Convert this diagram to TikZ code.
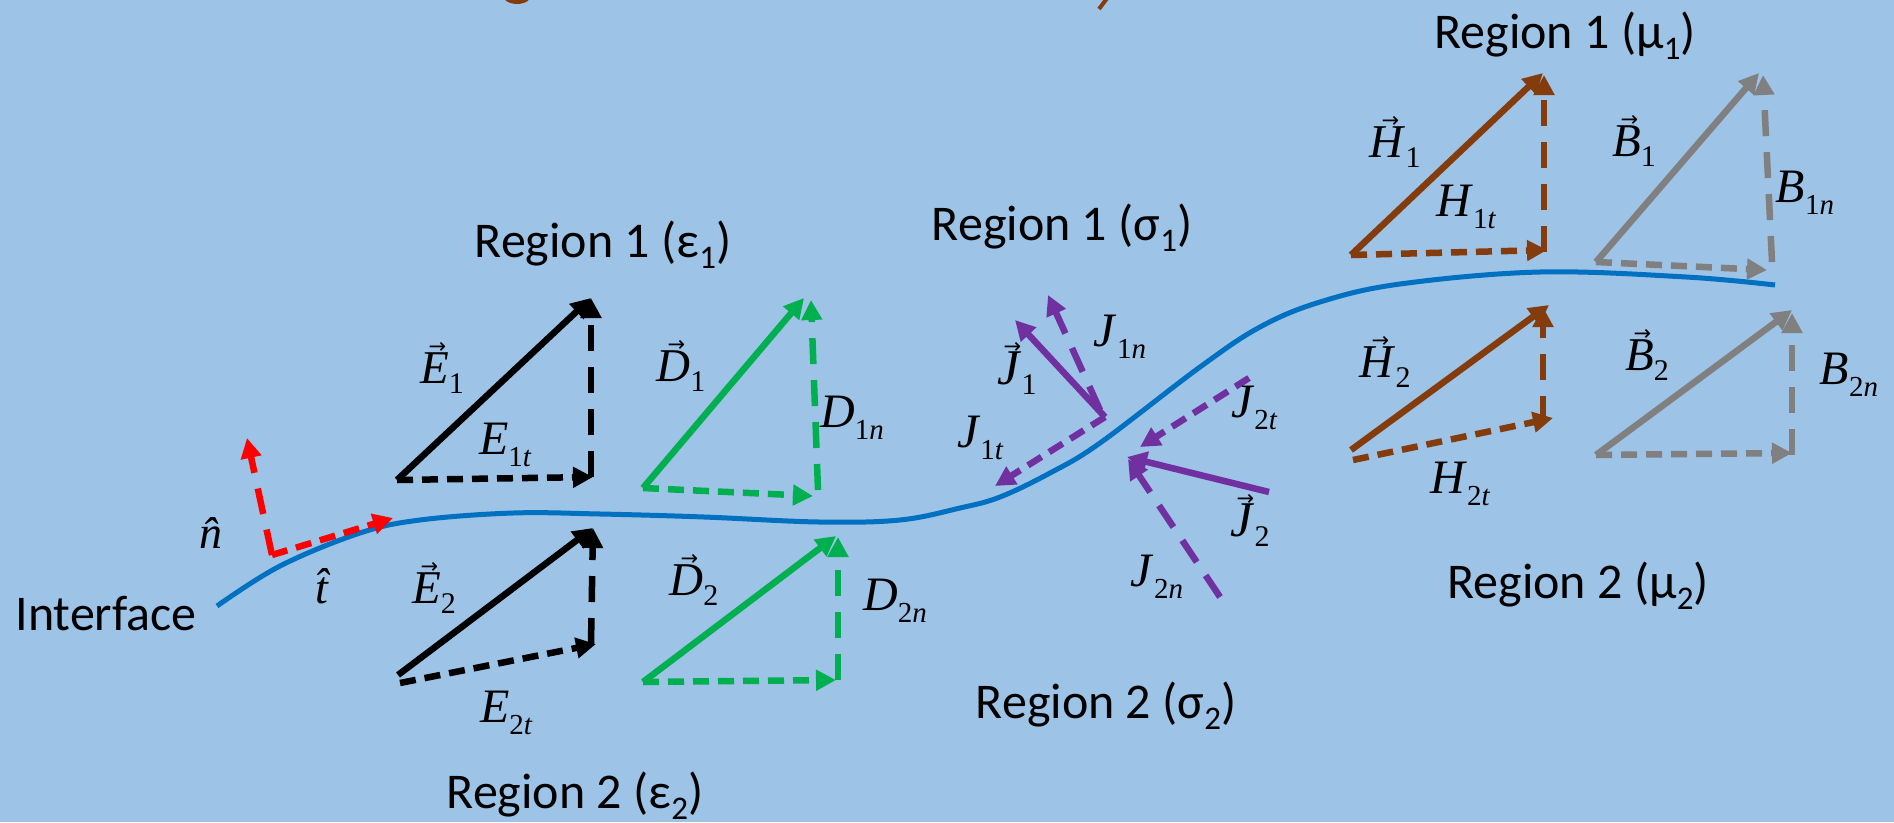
\documentclass[tikz,border=0pt]{standalone}
\usepackage{fontspec}
\setmainfont{Carlito}
\newfontfamily\tnr{Liberation Serif}
\newfontfamily\dvs{DejaVu Sans}
\usetikzlibrary{arrows.meta}
\definecolor{bg}{HTML}{9DC3E6}
\definecolor{ifc}{HTML}{0070C0}
\definecolor{vred}{HTML}{FF0000}
\definecolor{vgreen}{HTML}{00B050}
\definecolor{vpurple}{HTML}{7030A0}
\definecolor{vbrown}{HTML}{843C0C}
\definecolor{vgrey}{HTML}{808080}
% vector label: letter with small arrow above, subscript
\newcommand{\VL}[3][47]{{\fontsize{#1}{#1}\selectfont\tnr\itshape
  \setbox0\hbox{#2\/}%
  \rlap{\hbox to \wd0{\hfil\kern0.12em\raisebox{0.62em}{\fontsize{21}{21}\selectfont\upshape\dvs →}\hfil}}\box0
  \raisebox{-10pt}{\fontsize{30}{30}\selectfont\upshape #3}}}
% component label: letter, upright digit, italic letter
\newcommand{\CL}[3]{{\fontsize{48}{48}\selectfont\tnr\itshape #1\/\raisebox{-12pt}{\fontsize{29}{29}\selectfont\upshape #2\itshape #3}}}
% unit vector label
\newcommand{\HL}[1]{{\fontsize{46}{46}\selectfont\tnr\itshape\^{#1}}}
% region label
\newcommand{\RL}[3]{{\fontsize{50}{50}\selectfont Region #1 (#2\raisebox{-11pt}{\fontsize{33}{33}\selectfont #3})}}
\begin{document}
\begin{tikzpicture}[x=1pt,y=-1pt,
  vec/.style={line width=6.5pt,-{Triangle[length=20pt,width=20pt]}},
  tcomp/.style={vec,dash pattern=on 16pt off 9pt},
  ncomp/.style={vec,dash pattern=on 26pt off 16pt},
  lab/.style={inner sep=0pt,text=black},
  reg/.style={inner sep=0pt,anchor=base,text=black}]
\useasboundingbox (0,0) rectangle (1894,822);
\fill[bg] (0,0) rectangle (1894,822);
% cut-off title fragments
\begin{scope}
\clip (0,0) rectangle (1894,822);
\fill[vbrown] (517,-6) ellipse (15pt and 10pt);
\draw[vbrown,line width=4pt] (1108,-3) -- (1099,9);
\end{scope}
% interface
\draw[ifc,line width=5pt] plot[smooth,tension=0.6] coordinates {(217,606) (280,566) (360,533) (420,520) (513,513) (600,514) (704,517) (819,522) (900,520) (960,508) (1000,497) (1050,473) (1100,443) (1200,367) (1260,327) (1320,302) (1400,284) (1540,272) (1686,277) (1775,285)};
\node[inner sep=0pt,anchor=base,text=black] (ifl) at (106,630) {\fontsize{50}{50}\selectfont Interface};
% unit vectors
\coordinate (rc) at (272,555);
\coordinate (rn) at (247,438);
\coordinate (rt) at (393,518);
\draw[ncomp,vred] (rc) -- (rn);
\draw[tcomp,vred] (rc) -- (rt);
\node[lab] (nh) at (211,533) {\HL{n}};
\node[lab] (th) at (322,586) {\HL{t}};
% E1
\coordinate (e1b) at (397,480); \coordinate (e1t) at (591,298);
\coordinate (e1h) at (593,477); \coordinate (e1n) at (591,477);
\draw[vec,black] (e1b) -- (e1t);
\draw[tcomp,black] (e1b) -- (e1h);
\draw[ncomp,black] (e1n) -- (e1t);
\node[lab] (lE1) at (442,368) {\VL{E}{1}};
\node[lab] (lE1t) at (505,445) {\CL{E}{1}{t}};
% E2
\coordinate (e2b) at (398,675); \coordinate (e2s) at (400,683); \coordinate (e2t) at (593,528);
\coordinate (e2h) at (596,644); \coordinate (e2n) at (591,644);
\draw[vec,black] (e2b) -- (e2t);
\draw[tcomp,black] (e2s) -- (e2h);
\draw[ncomp,black] (e2n) -- (e2t);
\node[lab] (lE2) at (434,588) {\VL{E}{2}};
\node[lab] (lE2t) at (506,713) {\CL{E}{2}{t}};
% D1
\coordinate (d1b) at (643,488); \coordinate (d1t) at (804,298);
\coordinate (d1h) at (813,496); \coordinate (d1n) at (818,490); \coordinate (d1m) at (811,300);
\draw[vec,vgreen] (d1b) -- (d1t);
\draw[tcomp,vgreen] (d1b) -- (d1h);
\draw[ncomp,vgreen] (d1n) -- (d1m);
\node[lab] (lD1) at (681,366) {\VL{D}{1}};
\node[lab] (lD1n) at (852,418) {\CL{D}{1}{n}};
% D2
\coordinate (d2b) at (643,682); \coordinate (d2t) at (836,536);
\coordinate (d2h) at (836,680); \coordinate (d2n) at (838,680); \coordinate (d2m) at (838,537);
\draw[vec,vgreen] (d2b) -- (d2t);
\draw[tcomp,vgreen] (d2b) -- (d2h);
\draw[ncomp,vgreen] (d2n) -- (d2m);
\node[lab] (lD2) at (694,580) {\VL{D}{2}};
\node[lab] (lD2n) at (895,601) {\CL{D}{2}{n}};
% J1
\coordinate (j1o) at (1105,417); \coordinate (j1t) at (1015,320);
\coordinate (j1no) at (1100,410); \coordinate (j1n) at (1048,295);
\coordinate (j1tt) at (995,486);
\draw[vec,vpurple] (j1o) -- (j1t);
\draw[ncomp,vpurple] (j1no) -- (j1n);
\draw[tcomp,vpurple] (j1o) -- (j1tt);
\node[lab] (lJ1) at (1017,368) {\VL[50]{J}{1}};
\node[lab] (lJ1n) at (1120,337) {\CL{J}{1}{n}};
\node[lab] (lJ1t) at (980,438) {\CL{J}{1}{t}};
% J2
\coordinate (j2o) at (1269,492); \coordinate (j2t) at (1127,457);
\coordinate (j2no) at (1220,597); \coordinate (j2n) at (1128,459);
\coordinate (j2to) at (1249,378); \coordinate (j2tt) at (1140,447);
\draw[vec,vpurple] (j2o) -- (j2t);
\draw[ncomp,vpurple] (j2no) -- (j2n);
\draw[tcomp,vpurple] (j2to) -- (j2tt);
\node[lab] (lJ2) at (1250,520) {\VL[50]{J}{2}};
\node[lab] (lJ2n) at (1157,577) {\CL{J}{2}{n}};
\node[lab] (lJ2t) at (1254,408) {\CL{J}{2}{t}};
% H1
\coordinate (h1b) at (1351,255); \coordinate (h1t) at (1543,73);
\coordinate (h1h) at (1547,250); \coordinate (h1n) at (1544,252); \coordinate (h1m) at (1544,75);
\draw[vec,vbrown] (h1b) -- (h1t);
\draw[tcomp,vbrown] (h1b) -- (h1h);
\draw[ncomp,vbrown] (h1n) -- (h1m);
\node[lab] (lH1) at (1395,142) {\VL{H}{1}};
\node[lab] (lH1t) at (1466,207) {\CL{H}{1}{t}};
% B1
\coordinate (b1b) at (1596,262); \coordinate (b1t) at (1759,73);
\coordinate (b1h) at (1767,270); \coordinate (b1n) at (1772,262); \coordinate (b1m) at (1763,75);
\draw[vec,vgrey] (b1b) -- (b1t);
\draw[tcomp,vgrey] (b1b) -- (b1h);
\draw[ncomp,vgrey] (b1n) -- (b1m);
\node[lab] (lB1) at (1634,141) {\VL{B}{1}};
\node[lab] (lB1n) at (1805,193) {\CL{B}{1}{n}};
% H2
\coordinate (h2b) at (1351,450); \coordinate (h2s) at (1353,460); \coordinate (h2t) at (1549,305);
\coordinate (h2h) at (1553,418); \coordinate (h2n) at (1543,422); \coordinate (h2m) at (1543,307);
\draw[vec,vbrown] (h2b) -- (h2t);
\draw[tcomp,vbrown] (h2s) -- (h2h);
\draw[ncomp,vbrown] (h2n) -- (h2m);
\node[lab] (lH2) at (1385,362) {\VL{H}{2}};
\node[lab] (lH2t) at (1460,484) {\CL{H}{2}{t}};
% B2
\coordinate (b2b) at (1596,455); \coordinate (b2t) at (1792,310);
\coordinate (b2h) at (1792,453); \coordinate (b2n) at (1792,455); \coordinate (b2m) at (1792,313);
\draw[vec,vgrey] (b2b) -- (b2t);
\draw[tcomp,vgrey] (b2b) -- (b2h);
\draw[ncomp,vgrey] (b2n) -- (b2m);
\node[lab] (lB2) at (1647,355) {\VL{B}{2}};
\node[lab] (lB2n) at (1849,375) {\CL{B}{2}{n}};
% region labels
\node[reg] (r1e) at (603,257) {\RL{1}{ε}{1}};
\node[reg] (r2e) at (575,808) {\RL{2}{ε}{2}};
\node[reg] (r1s) at (1062,240) {\RL{1}{σ}{1}};
\node[reg] (r2s) at (1106,718) {\RL{2}{σ}{2}};
\node[reg] (r1m) at (1565,48) {\RL{1}{μ}{1}};
\node[reg] (r2m) at (1578,598) {\RL{2}{μ}{2}};
\end{tikzpicture}
\end{document}
